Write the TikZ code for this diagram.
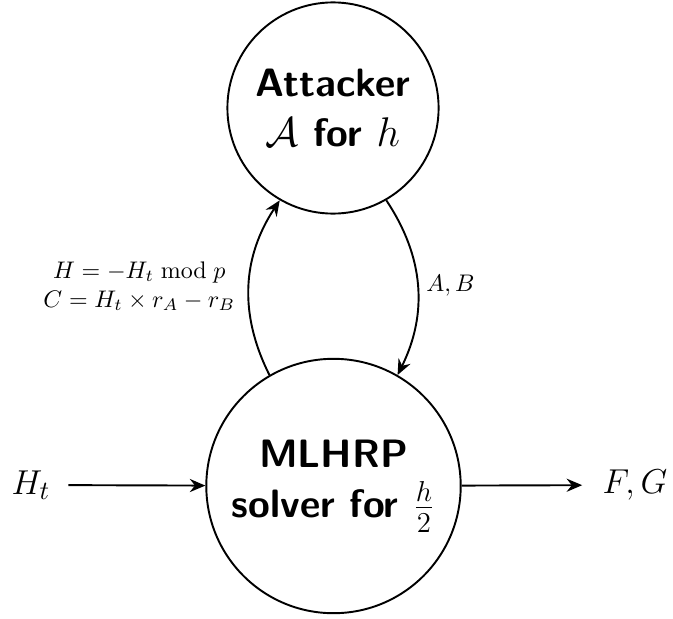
\documentclass[tikz,border=0pt]{standalone}
\usetikzlibrary{arrows.meta}
\begin{document}
\begin{tikzpicture}[x=0.41667pt, y=-0.41667pt,
  every node/.style={inner sep=3.33pt},
  bigcirc/.style={circle, draw, thick, align=center, inner sep=0pt,
    font=\fontsize{16.5}{21}\selectfont\sffamily\bfseries},
  conn/.style={thick, -{Stealth[length=6.5pt, width=5.5pt, inset=2.2pt]}},
  iolabel/.style={font=\fontsize{15}{18}\selectfont}]
\useasboundingbox (0,0) rectangle (673,618);
\node[bigcirc, minimum size=88pt] (att) at (333,108)
  {Attacker\\ $\mathcal{A}$ for $h$};
\node[bigcirc, minimum size=106pt] (solver) at (333.5,486)
  {MLHRP\\ solver for $\frac{h}{2}$};
\node[iolabel] (Ht) at (31,485) {$H_t$};
\node[iolabel] (FG) at (635,485) {$F,G$};
\draw[conn, shorten <=4pt] (Ht) -- (solver);
\draw[conn, shorten >=5pt] (solver) -- (FG);
\draw[conn] (solver.120) to[bend left=30]
  node[left, align=center, xshift=-2pt] {$H=-H_t \bmod p$\\ $C=H_t\times r_A-r_B$} (att.240);
\draw[conn] (att.300) to[bend left=30]
  node[right] {$A,B$} (solver.60);
\end{tikzpicture}
\end{document}
